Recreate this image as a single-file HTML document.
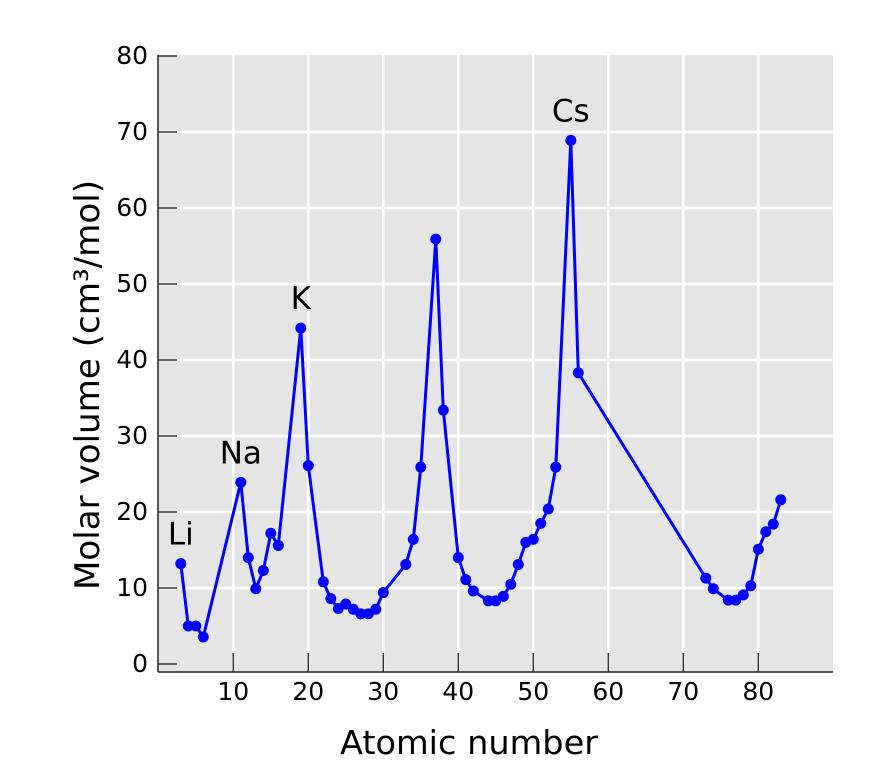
<!DOCTYPE html>
<html><head><meta charset="utf-8"><style>
body{margin:0;background:#fff;}
svg text{font-family:"DejaVu Sans","Liberation Sans",sans-serif;fill:#000;}
</style></head><body>
<svg id="chart" width="879" height="774" viewBox="0 0 879 774" xmlns="http://www.w3.org/2000/svg">
<rect x="158" y="55" width="675" height="617" fill="#e5e5e5"/>
<g id="grid"></g>
<g id="axes"></g>
<g id="series"></g>
<g id="annots"></g>
<text x="469" y="754" font-size="33" text-anchor="middle" textLength="258" lengthAdjust="spacingAndGlyphs">Atomic number</text>
<text transform="translate(99,385) rotate(-90)" font-size="34" text-anchor="middle" textLength="410" lengthAdjust="spacingAndGlyphs">Molar volume (cm³/mol)</text>
</svg>
<script>
const atomicNumbers=[3,4,5,6,11,12,13,14,15,16,19,20,22,23,24,25,26,27,28,29,30,33,34,35,37,38,40,41,42,44,45,46,47,48,49,50,51,52,53,55,56,73,74,76,77,78,79,80,81,82,83];
const molarVolumes=[13.2,5.0,5.0,3.55,23.9,14.0,9.9,12.3,17.2,15.6,44.2,26.1,10.8,8.6,7.3,7.9,7.2,6.6,6.6,7.2,9.4,13.1,16.4,25.9,55.9,33.4,14.0,11.1,9.6,8.3,8.3,8.9,10.5,13.1,16.0,16.4,18.5,20.4,25.9,68.9,38.3,11.3,9.9,8.4,8.4,9.1,10.3,15.1,17.4,18.4,21.6];
const xTicks=[10,20,30,40,50,60,70,80];
const yTicks=[0,10,20,30,40,50,60,70,80];
const labels=["Li","Na","K","Cs"];
const labelZ=[3,11,19,55];
const labelV=[13.2,23.9,44.2,68.9];

const NS="http://www.w3.org/2000/svg";
const X0=158.3,XS=7.5,Y0=664,YS=7.6;
function xs(v){return X0+v*XS;}
function ys(v){return Y0-v*YS;}
function mk(tag,attrs,parent){const e=document.createElementNS(NS,tag);for(const k in attrs)e.setAttribute(k,attrs[k]);parent.appendChild(e);return e;}
const grid=document.getElementById('grid'),axes=document.getElementById('axes'),series=document.getElementById('series'),ann=document.getElementById('annots');
yTicks.forEach(t=>{
  if(t>0&&t<80){const g=mk('line',{x1:158,x2:833,y1:ys(t),y2:ys(t),stroke:'#fff','stroke-width':2.5},grid);
  
  }
  const tk=mk('line',{x1:158,x2:177,y1:ys(t),y2:ys(t),stroke:'#333','stroke-width':1.5},axes);
  
  
  const lb=mk('text',{x:148,y:ys(t)+8,'font-size':25,'text-anchor':'end'},axes);lb.textContent=t;
  
  
});
xTicks.forEach(t=>{
  const g=mk('line',{x1:xs(t),x2:xs(t),y1:55,y2:672,stroke:'#fff','stroke-width':2.5},grid);
  
  
  const tk=mk('line',{x1:xs(t),x2:xs(t),y1:653,y2:672,stroke:'#333','stroke-width':1.5},axes);
  
  
  const lb=mk('text',{x:xs(t),y:700,'font-size':25,'text-anchor':'middle'},axes);lb.textContent=t;
  
  
});
const la=mk('line',{x1:158,x2:158,y1:55,y2:672,stroke:'#222','stroke-width':1.5},axes);


const ba=mk('line',{x1:158,x2:833,y1:672,y2:672,stroke:'#222','stroke-width':1.5},axes);


const pts=atomicNumbers.map((z,i)=>xs(z)+','+ys(molarVolumes[i])).join(' ');
const pl=mk('polyline',{points:pts,fill:'none',stroke:'#0000ff','stroke-width':3,'stroke-linejoin':'round'},series);


atomicNumbers.forEach((z,i)=>{
  const c=mk('circle',{cx:xs(z),cy:ys(molarVolumes[i]),r:5.5,fill:'#0000ff'},series);
  
  
});
labels.forEach((s,i)=>{
  const t=mk('text',{x:xs(labelZ[i]),y:ys(labelV[i])-19,'font-size':31,'text-anchor':'middle'},ann);t.textContent=s;
  
  
});
</script>
</body></html>
